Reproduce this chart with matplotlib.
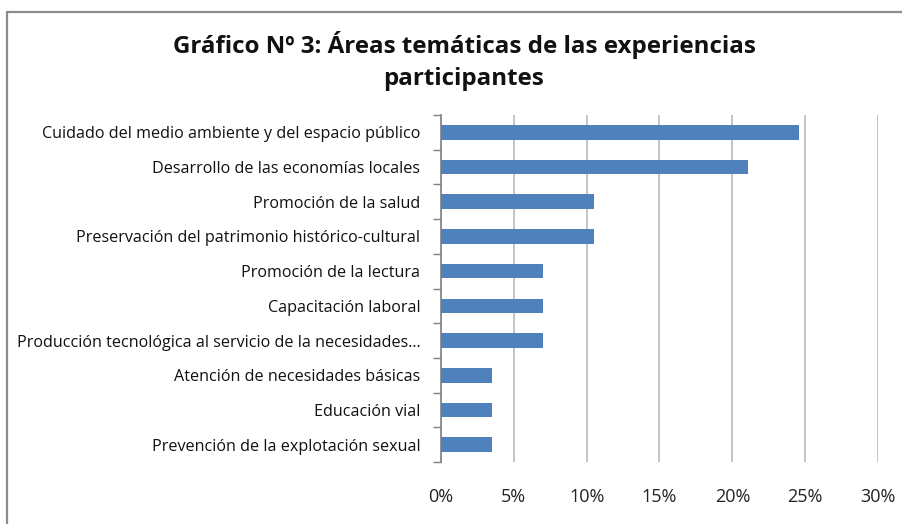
import numpy as np
import matplotlib
matplotlib.use("Agg")
import matplotlib.pyplot as plt
from matplotlib.patches import Rectangle
from matplotlib.ticker import FuncFormatter, MultipleLocator

plt.rcParams['font.family'] = ['Open Sans', 'DejaVu Sans']

# Data (share of participating experiences, %)
categorias = [
    "Cuidado del medio ambiente y del espacio público",
    "Desarrollo de las economías locales",
    "Promoción de la salud",
    "Preservación del patrimonio histórico-cultural",
    "Promoción de la lectura",
    "Capacitación laboral",
    "Producción tecnológica al servicio de la necesidades...",
    "Atención de necesidades básicas",
    "Educación vial",
    "Prevención de la explotación sexual",
]
porcentajes = [24.56, 21.05, 10.53, 10.53, 7.02, 7.02, 7.02, 3.51, 3.51, 3.51]

titulo = "Gráfico Nº 3: Áreas temáticas de las experiencias\nparticipantes"

W, H = 903, 524
fig = plt.figure(figsize=(W / 100, H / 100), dpi=100)

# outer chart frame (runs off the right/bottom edge like the screenshot)
frame = Rectangle((7 / W, -0.1), 1.0, 1 - 12 / H + 0.1, transform=fig.transFigure,
                  fill=False, edgecolor="#8c8c8c", linewidth=1.6, zorder=0)
fig.patches.append(frame)

ax = fig.add_axes([441 / W, 1 - 462 / H, 437 / W, 347 / H])

y = np.arange(len(categorias))
ax.barh(y, porcentajes, height=0.42, color="#4F81BD", zorder=3)

ax.set_xlim(0, 30)
ax.set_ylim(len(categorias) - 0.5, -0.5)
ax.xaxis.set_major_locator(MultipleLocator(5))
ax.xaxis.set_major_formatter(FuncFormatter(lambda v, p: f"{v:.0f}%"))
ax.grid(axis="x", color="#bfbfbf", linewidth=1.3, zorder=0)
ax.tick_params(axis="x", length=0, pad=19, labelsize=13, labelcolor="#222222")

ax.set_yticks(y)
ax.set_yticklabels(categorias)
ax.set_yticks(np.arange(len(categorias) + 1) - 0.5, minor=True)
ax.tick_params(axis="y", which="major", length=0, pad=15, labelsize=11.6, labelcolor="#111111")
ax.tick_params(axis="y", which="minor", length=6, width=1, color="#808080")

for s in ["top", "right", "bottom"]:
    ax.spines[s].set_visible(False)
ax.spines["left"].set_color("#808080")
ax.spines["left"].set_linewidth(1.2)

fig.text(464 / W, 1 - 61 / H, titulo, ha="center", va="center", fontsize=17.4,
         fontweight="bold", linespacing=1.45, color="#111111")

fig.savefig("out.png", dpi=100)
